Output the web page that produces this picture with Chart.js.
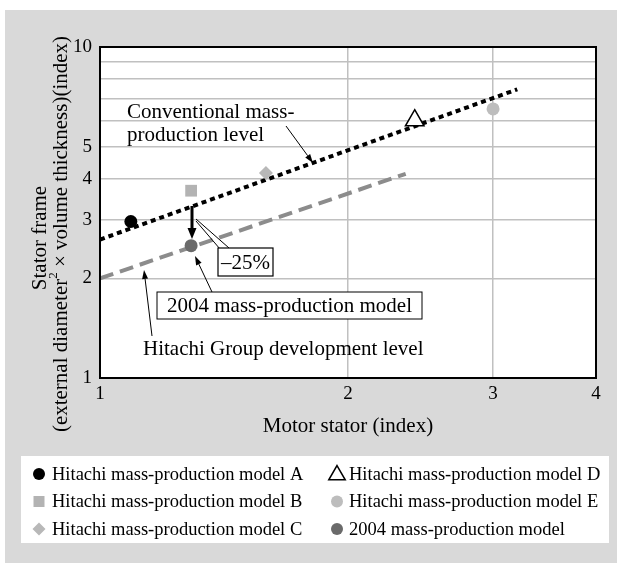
<!DOCTYPE html>
<html>
<head>
<meta charset="utf-8">
<script src="https://cdn.jsdelivr.net/npm/chart.js@4.4.1/dist/chart.umd.min.js"></script>
<style>
  html, body { margin: 0; padding: 0; background: #fff; }
  #wrap { width: 617px; height: 563px; }
</style>
</head>
<body>
<div id="wrap"><canvas id="statorChart" width="617" height="563"></canvas></div>
<script>
const SERIF = '"Liberation Serif", "Times New Roman", serif';

// reference levels (log-log straight lines)
const convX = [1, 3.21];
const convY = [2.62, 7.45];
const groupX = [1, 2.35];
const groupY = [2.0, 4.14];

// models
const modelNames = [
  "Hitachi mass-production model A",
  "Hitachi mass-production model B",
  "Hitachi mass-production model C",
  "Hitachi mass-production model D",
  "Hitachi mass-production model E",
  "2004 mass-production model"
];
const modelX = [1.09, 1.29, 1.59, 2.41, 3.0, 1.29];
const modelY = [2.97, 3.68, 4.16, 6.0, 6.5, 2.51];

// axes
const xTicks = [1, 2, 3, 4];
const yTicks = [1, 2, 3, 4, 5, 6, 7, 8, 9, 10];
const yLabels = [1, 2, 3, 4, 5, 10];

// marker look for each model
const markers = [
  { style: "circle", fill: "#000000", stroke: "#000000", r: 6.5 },
  { style: "rect", fill: "#b3b3b3", stroke: "#b3b3b3", r: 8.3 },
  { style: "rectRot", fill: "#b8b8b8", stroke: "#b8b8b8", r: 7 },
  { style: "triangle", fill: "#ffffff", stroke: "#000000", r: 10.7 },
  { style: "circle", fill: "#bdbdbd", stroke: "#bdbdbd", r: 6.5 },
  { style: "circle", fill: "#6a6a6a", stroke: "#6a6a6a", r: 6.5 }
];

// legend order: two columns, three rows
const legendOrder = [0, 3, 1, 4, 2, 5];

const ANN = "21px " + SERIF;

function drawArrow(ctx, x1, y1, x2, y2, lw, headLen, headW) {
  const ang = Math.atan2(y2 - y1, x2 - x1);
  const bx = x2 - Math.cos(ang) * headLen;
  const by = y2 - Math.sin(ang) * headLen;
  ctx.lineWidth = lw;
  ctx.beginPath();
  ctx.moveTo(x1, y1);
  ctx.lineTo(bx, by);
  ctx.stroke();
  ctx.beginPath();
  ctx.moveTo(x2, y2);
  ctx.lineTo(bx + Math.sin(ang) * headW / 2, by - Math.cos(ang) * headW / 2);
  ctx.lineTo(bx - Math.sin(ang) * headW / 2, by + Math.cos(ang) * headW / 2);
  ctx.closePath();
  ctx.fill();
}

function drawMarker(ctx, m, x, y, r) {
  ctx.fillStyle = m.fill;
  ctx.strokeStyle = m.stroke;
  ctx.lineWidth = 1.5;
  ctx.beginPath();
  if (m.style === "circle") {
    ctx.arc(x, y, r, 0, Math.PI * 2);
  } else if (m.style === "rect") {
    ctx.rect(x - r, y - r, 2 * r, 2 * r);
  } else if (m.style === "rectRot") {
    ctx.moveTo(x, y - r); ctx.lineTo(x + r, y); ctx.lineTo(x, y + r); ctx.lineTo(x - r, y);
    ctx.closePath();
  } else {
    ctx.moveTo(x, y - r);
    ctx.lineTo(x + r * 0.866, y + r / 2);
    ctx.lineTo(x - r * 0.866, y + r / 2);
    ctx.closePath();
  }
  ctx.fill();
  if (m.style === "triangle") ctx.stroke();
}

const decor = {
  id: "decor",
  beforeDraw(chart) {
    const { ctx, chartArea: a } = chart;
    ctx.save();
    ctx.fillStyle = "#ffffff";
    ctx.fillRect(0, 0, chart.width, chart.height);
    ctx.fillStyle = "#d9d9d9";
    ctx.fillRect(5, 10, 612, 553);
    ctx.fillStyle = "#ffffff";
    ctx.fillRect(a.left, a.top, a.right - a.left, a.bottom - a.top);
    ctx.fillRect(21, 456, 588, 87);
    ctx.restore();
  },
  afterDatasetsDraw(chart) {
    const { ctx, chartArea: a } = chart;
    ctx.save();

    // frame
    ctx.strokeStyle = "#000";
    ctx.lineWidth = 2;
    ctx.strokeRect(a.left, a.top, a.right - a.left, a.bottom - a.top);

    ctx.fillStyle = "#000";
    ctx.strokeStyle = "#000";
    ctx.font = ANN;
    ctx.textBaseline = "alphabetic";
    ctx.textAlign = "left";

    // conventional level label
    ctx.fillText("Conventional mass-", 127, 118);
    ctx.fillText("production level", 127, 141);
    drawArrow(ctx, 286, 126, 313, 163, 1, 9, 6);

    // -25% arrow and callout
    drawArrow(ctx, 192, 206, 192, 239, 3, 11, 9);
    ctx.lineWidth = 1;
    ctx.beginPath();
    ctx.moveTo(196, 219); ctx.lineTo(229, 248);
    ctx.moveTo(196, 221); ctx.lineTo(220, 249);
    ctx.stroke();
    ctx.fillStyle = "#fff";
    ctx.fillRect(218, 248, 55, 28);
    ctx.lineWidth = 1.2;
    ctx.strokeRect(218, 248, 55, 28);
    ctx.fillStyle = "#000";
    ctx.textAlign = "center";
    ctx.textBaseline = "middle";
    ctx.fillText("\u201325%", 245.5, 263);

    // 2004 model callout
    drawArrow(ctx, 212, 292, 195, 256, 1, 9, 6);
    ctx.fillStyle = "#fff";
    ctx.fillRect(157, 292, 265, 27);
    ctx.strokeRect(157, 292, 265, 27);
    ctx.fillStyle = "#000";
    ctx.fillText("2004 mass-production model", 289.5, 306.5);

    // group development level
    drawArrow(ctx, 152, 336, 144, 270, 1, 9, 6);
    ctx.textAlign = "left";
    ctx.textBaseline = "alphabetic";
    ctx.fillText("Hitachi Group development level", 143, 355);

    // x title
    ctx.textAlign = "center";
    ctx.textBaseline = "middle";
    ctx.fillText("Motor stator (index)", (a.left + a.right) / 2, 426);

    // y title (rotated, two lines, superscript)
    ctx.save();
    ctx.translate(40, 238);
    ctx.rotate(-Math.PI / 2);
    ctx.fillText("Stator frame", 0, 0);
    ctx.restore();

    ctx.save();
    ctx.translate(61, 234);
    ctx.rotate(-Math.PI / 2);
    ctx.textAlign = "left";
    const p1 = "(external diameter";
    const p2 = "2";
    const p3 = " \u00d7 volume thickness)(index)";
    ctx.font = ANN;
    const w1 = ctx.measureText(p1).width;
    const w3 = ctx.measureText(p3).width;
    ctx.font = "13px " + SERIF;
    const w2 = ctx.measureText(p2).width;
    let x0 = -(w1 + w2 + w3) / 2;
    ctx.font = ANN;
    ctx.fillText(p1, x0, 0);
    ctx.font = "13px " + SERIF;
    ctx.fillText(p2, x0 + w1, -7);
    ctx.font = ANN;
    ctx.fillText(p3, x0 + w1 + w2, 0);
    ctx.restore();

    // legend
    ctx.font = "18.5px " + SERIF;
    ctx.textAlign = "left";
    ctx.textBaseline = "middle";
    const legendR = [6, 5.5, 6.5, 9.5, 6, 6];
    legendOrder.forEach((idx, i) => {
      const col = i % 2;
      const row = Math.floor(i / 2);
      const mx = col === 0 ? 39 : 337;
      const tx = col === 0 ? 52 : 349;
      const y = 474 + row * 27.5;
      drawMarker(ctx, markers[idx], mx, idx === 3 ? y + 1 : y, legendR[idx]);
      ctx.fillStyle = "#000";
      ctx.fillText(modelNames[idx], tx, y + 1);
    });

    ctx.restore();
  }
};

const datasets = [];

modelNames.forEach((name, i) => {
  const m = markers[i];
  datasets.push({
    type: "scatter",
    label: name,
    data: [{ x: modelX[i], y: modelY[i] }],
    pointStyle: m.style,
    pointRadius: m.r,
    pointBackgroundColor: m.fill,
    pointBorderColor: m.stroke,
    pointBorderWidth: m.style === "triangle" ? 1.5 : 0,
    order: 1
  });
});

datasets.push({
  type: "line",
  label: "Conventional mass-production level",
  data: convX.map((x, i) => ({ x: x, y: convY[i] })),
  borderColor: "#000000",
  borderWidth: 4,
  borderDash: [5, 4],
  pointRadius: 0,
  fill: false,
  order: 2
});

datasets.push({
  type: "line",
  label: "Hitachi Group development level",
  data: groupX.map((x, i) => ({ x: x, y: groupY[i] })),
  borderColor: "#8c8c8c",
  borderWidth: 4,
  borderDash: [14, 7],
  pointRadius: 0,
  fill: false,
  order: 2
});

const chart = new Chart(document.getElementById("statorChart"), {
  type: "scatter",
  data: { datasets },
  options: {
    responsive: false,
    animation: false,
    events: [],
    layout: { padding: { left: 0, top: 47, right: 21, bottom: 0 } },
    plugins: {
      legend: { display: false },
      tooltip: { enabled: false }
    },
    scales: {
      x: {
        type: "logarithmic",
        min: 1,
        max: 4,
        afterFit(scale) { scale.height = 185; },
        afterBuildTicks(scale) { scale.ticks = xTicks.map(v => ({ value: v })); },
        ticks: {
          autoSkip: false,
          maxRotation: 0,
          padding: 5,
          color: "#000",
          font: { family: SERIF, size: 19 },
          callback: v => String(v)
        },
        grid: { color: "#c0c0c0", lineWidth: 1.5, drawTicks: false },
        border: { display: false }
      },
      y: {
        type: "logarithmic",
        min: 1,
        max: 10,
        afterFit(scale) { scale.width = 100; },
        afterBuildTicks(scale) { scale.ticks = yTicks.map(v => ({ value: v })); },
        ticks: {
          autoSkip: false,
          padding: 8,
          color: "#000",
          font: { family: SERIF, size: 19 },
          callback: v => (yLabels.includes(v) ? String(v) : "")
        },
        grid: { color: "#c0c0c0", lineWidth: 1.5, drawTicks: false },
        border: { display: false }
      }
    }
  },
  plugins: [decor]
});
</script>
</body>
</html>
